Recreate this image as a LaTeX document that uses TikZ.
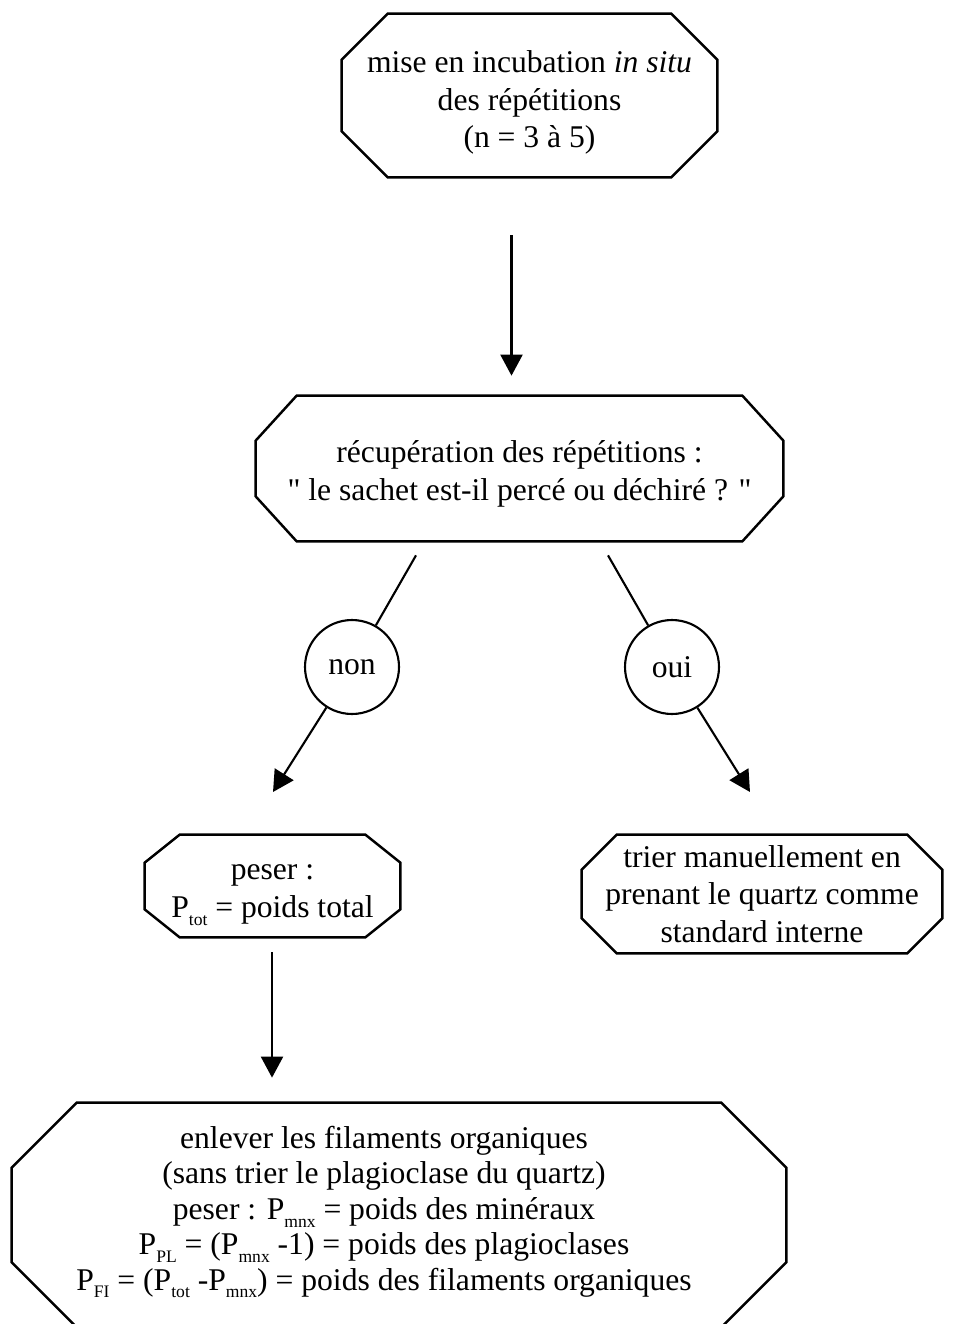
\documentclass[tikz,border=0pt]{standalone}
\usepackage{fontspec}
\setmainfont{Liberation Serif}[Ligatures=TeXOff]
\usetikzlibrary{arrows.meta}
\tikzset{boxtext/.style = {rectangle, align=center, inner sep=0pt, font=\fontsize{18}{21.5}\selectfont}}
\tikzset{boxline/.style = {line width=1.4pt, line join=miter}}
\tikzset{answer/.style = {circle, draw, line width=1.2pt, minimum size=1.88cm, inner sep=0pt, font=\fontsize{18}{21.5}\selectfont}}
\tikzset{flow/.style = {line width=1.2pt, -{Triangle[length=0.42cm, width=0.44cm]}}}
\def\u{0.02cm}
\newcommand{\ind}[1]{\raisebox{-4.5pt}{\fontsize{10}{10}\selectfont #1}}

\begin{document}
\begin{tikzpicture}[x=\u, y=-\u]
		% Frame
		\useasboundingbox (0,0) rectangle (962,1324);
		
		% Boxes
		\node[boxtext, minimum width=375*\u, minimum height=163*\u] (incub) at (529.5,102.5) {mise en incubation \textit{in situ}\\des répétitions\\(n = 3 à 5)};
		\node[boxtext, minimum width=527*\u, minimum height=145*\u] (recup) at (519.5,473.5) {récupération des répétitions :\\" le sachet est-il percé ou déchiré ? "};
		\node[boxtext, minimum width=255*\u, minimum height=102*\u] (peser) at (272.5,895) {peser :\\P\ind{tot} = poids total};
		\node[boxtext, minimum width=360*\u, minimum height=118*\u] (trier) at (762,894) {trier manuellement en\\prenant le quartz comme\\standard interne};
		\node[boxtext, minimum width=774*\u, minimum height=224*\u, font=\fontsize{18}{20.2}\selectfont] (enlever) at (384,1212) {enlever les filaments organiques\\(sans trier le plagioclase du quartz)\\peser : P\ind{mnx} = poids des minéraux\\P\ind{PL} = (P\ind{mnx} -1) = poids des plagioclases\\P\ind{FI} = (P\ind{tot} -P\ind{mnx}) = poids des filaments organiques};
		
		%% Chamfered outlines (chamfer x/y, offset of outline x/y)
		\foreach \n/\cx/\cy/\ox/\oy in {incub/46/46/0/-7, recup/41/45/0/-5, peser/35/28/0/-9, trier/35/35/0/0, enlever/65/65/15/3}
		{
			\draw[boxline] ([shift={(\ox+\cx,\oy)}]\n.north west) -- ([shift={(\ox-\cx,\oy)}]\n.north east)
				-- ([shift={(\ox,\oy+\cy)}]\n.north east) -- ([shift={(\ox,\oy-\cy)}]\n.south east)
				-- ([shift={(\ox-\cx,\oy)}]\n.south east) -- ([shift={(\ox+\cx,\oy)}]\n.south west)
				-- ([shift={(\ox,\oy-\cy)}]\n.south west) -- ([shift={(\ox,\oy+\cy)}]\n.north west) -- cycle;
		}
		
		% Answers
		\node[answer] (non) at (352,667) {non};
		\node[answer] (oui) at (672,667) {oui};
		\coordinate (nontip) at (273,792);
		\coordinate (ouitip) at (750,792);
		
		% Arrows
		\draw[flow] ([shift={(-18,51)}]incub.south) -- ([shift={(-8,-25)}]recup.north);
		\draw[flow, -] ([shift={(-103.5,9)}]recup.south) -- (non);
		\draw[flow, -] ([shift={(88.5,9)}]recup.south) -- (oui);
		\draw[flow] (non) -- (nontip);
		\draw[flow] (oui) -- (ouitip);
		\draw[flow] ([shift={(-0.5,6)}]peser.south) -- ([shift={(-112,-22)}]enlever.north);
	\end{tikzpicture}
\end{document}
